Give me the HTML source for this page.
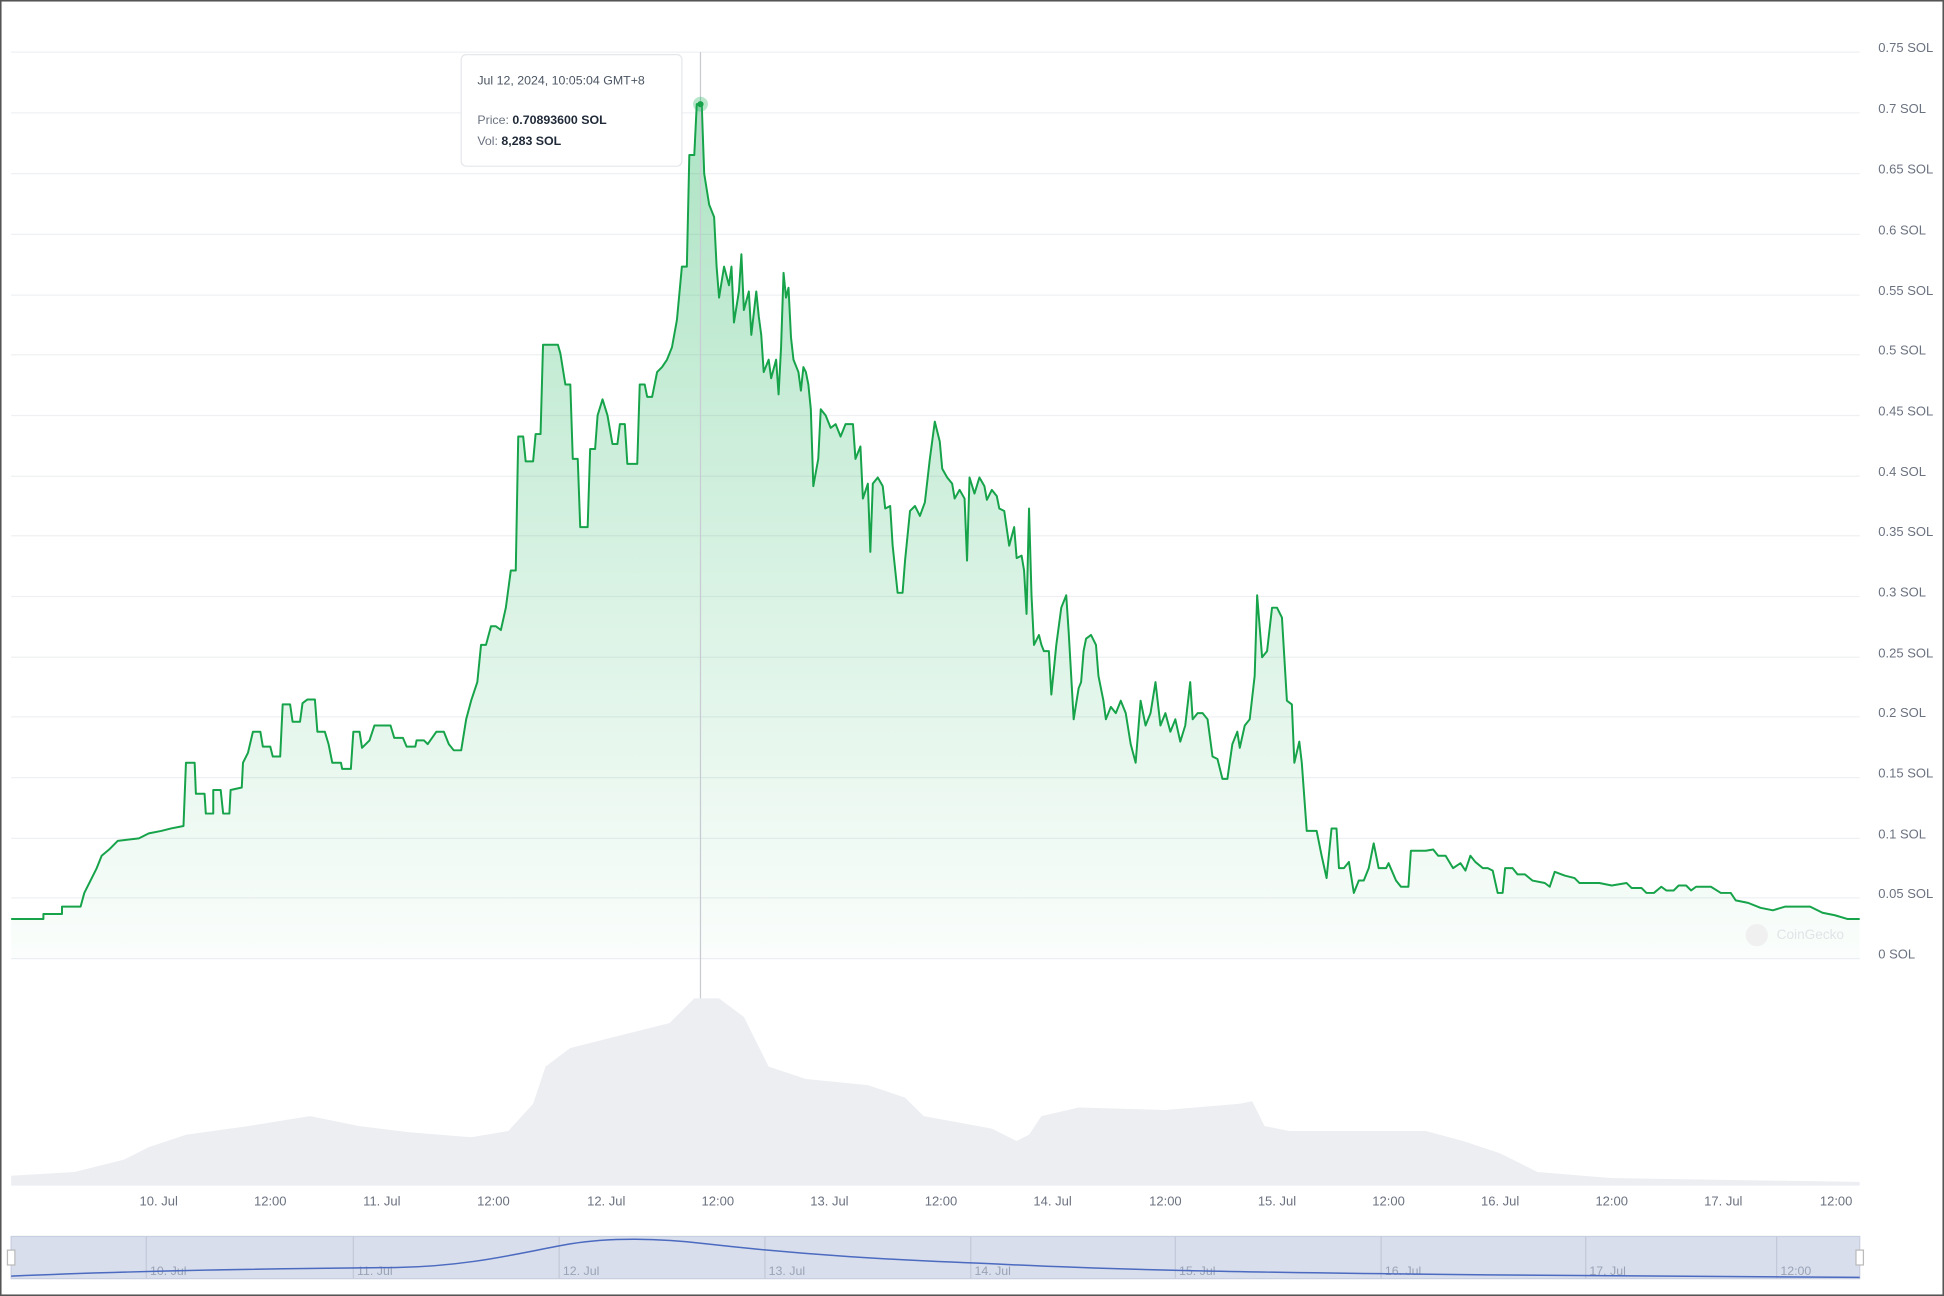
<!DOCTYPE html>
<html><head><meta charset="utf-8"><style>
html,body{margin:0;padding:0;background:#fff;}
svg{display:block;}
text{font-family:"Liberation Sans",sans-serif;}
</style></head><body>
<svg width="1944" height="1296" viewBox="0 0 1568 1045" preserveAspectRatio="none" xmlns="http://www.w3.org/2000/svg">
<defs>
<linearGradient id="g" x1="0" y1="0" x2="0" y2="1">
<stop offset="0" stop-color="#16b157" stop-opacity="0.35"/>
<stop offset="1" stop-color="#16b157" stop-opacity="0.02"/>
</linearGradient>
</defs>
<rect x="0.5" y="0.5" width="1567" height="1044" fill="#fff" stroke="#555" stroke-width="1.5"/>
<g stroke="#eef0f3" stroke-width="1">
<line x1="9" x2="1500" y1="42" y2="42"/><line x1="9" x2="1500" y1="91" y2="91"/><line x1="9" x2="1500" y1="140" y2="140"/><line x1="9" x2="1500" y1="189" y2="189"/><line x1="9" x2="1500" y1="238" y2="238"/><line x1="9" x2="1500" y1="286" y2="286"/><line x1="9" x2="1500" y1="335" y2="335"/><line x1="9" x2="1500" y1="384" y2="384"/><line x1="9" x2="1500" y1="432" y2="432"/><line x1="9" x2="1500" y1="481" y2="481"/><line x1="9" x2="1500" y1="530" y2="530"/><line x1="9" x2="1500" y1="578" y2="578"/><line x1="9" x2="1500" y1="627" y2="627"/><line x1="9" x2="1500" y1="676" y2="676"/><line x1="9" x2="1500" y1="724" y2="724"/><line x1="9" x2="1500" y1="773" y2="773"/>
</g>
<g fill="#6b7280" font-size="10.5">
<text x="1515" y="42">0.75 SOL</text><text x="1515" y="91">0.7 SOL</text><text x="1515" y="140">0.65 SOL</text><text x="1515" y="189">0.6 SOL</text><text x="1515" y="238">0.55 SOL</text><text x="1515" y="286">0.5 SOL</text><text x="1515" y="335">0.45 SOL</text><text x="1515" y="384">0.4 SOL</text><text x="1515" y="432">0.35 SOL</text><text x="1515" y="481">0.3 SOL</text><text x="1515" y="530">0.25 SOL</text><text x="1515" y="578">0.2 SOL</text><text x="1515" y="627">0.15 SOL</text><text x="1515" y="676">0.1 SOL</text><text x="1515" y="724">0.05 SOL</text><text x="1515" y="773">0 SOL</text>
</g>
<path fill="#eceef2" d="M9,956 L9,948 60,945 100,935 120,925 150,915 200,908 250,900 290,908 330,913 380,917 410,912 430,890 440,860 460,845 500,835 540,825 560,805 580,805 600,820 620,860 650,870 700,875 730,885 745,900 800,910 820,920 830,915 840,900 870,893 940,895 1000,890 1010,888 1020,908 1040,912 1150,912 1180,920 1210,930 1240,945 1300,950 1500,953 1500,956 Z"/>
<g id="pl">
<polygon fill="url(#g)" points="9,773 9,741 35,741 35,737 50,737 50,731 65,731 68,720 72,712 78,700 82,690 88,685 95,678 112,676 120,672 130,670 138,668 148,666 150,615 157,615 158,640 165,640 166,656 172,656 172,637 178,637 180,656 185,656 186,637 195,635 196,615 200,607 204,590 210,590 212,602 218,602 220,610 226,610 228,568 234,568 236,582 242,582 244,567 248,564 254,564 256,590 262,590 265,600 268,615 275,615 276,620 283,620 285,590 290,590 292,603 298,597 302,585 315,585 318,595 325,595 328,602 335,602 336,597 342,597 345,600 352,590 358,590 362,600 366,605 372,605 376,580 380,565 385,550 388,520 392,520 396,505 400,505 404,508 408,490 412,460 416,460 418,352 422,352 424,372 430,372 432,350 436,350 438,278 450,278 452,285 456,310 460,310 462,370 466,370 468,425 474,425 476,362 480,362 482,335 486,322 490,335 494,358 498,358 500,342 504,342 506,374 514,374 516,310 520,310 522,320 526,320 530,300 534,296 538,290 542,280 546,258 550,215 554,215 556,125 560,125 562,84 566,84 568,140 572,165 576,175 578,215 580,240 584,215 588,230 590,215 592,260 596,235 598,205 600,250 604,235 606,270 610,235 612,255 614,270 616,300 620,290 622,305 626,290 628,318 630,280 632,220 634,240 636,232 638,272 640,290 644,300 646,315 648,296 650,300 652,310 654,330 656,392 660,370 662,330 666,335 670,345 674,342 678,352 682,342 688,342 690,370 694,360 696,402 700,390 702,445 704,390 708,385 712,392 714,410 718,408 720,440 724,478 728,478 730,452 734,412 738,408 742,416 746,405 750,370 754,340 758,356 760,378 764,385 768,390 770,402 774,395 778,402 780,452 782,385 786,398 790,385 794,392 796,403 800,395 804,400 806,410 810,412 814,440 818,425 820,450 824,448 826,460 828,495 830,410 832,480 834,520 838,512 840,520 842,525 846,525 848,560 852,520 856,490 860,480 862,510 866,580 870,555 872,550 874,525 876,515 880,512 884,520 886,545 890,565 892,580 896,570 900,575 904,565 908,575 912,600 916,615 920,565 924,585 928,575 932,550 936,585 940,575 944,590 948,580 952,598 956,585 960,550 962,580 966,575 970,575 974,580 978,610 982,612 986,628 990,628 994,600 998,590 1000,603 1004,585 1008,580 1012,545 1014,480 1018,530 1022,525 1026,490 1030,490 1034,498 1038,565 1042,568 1044,615 1048,598 1050,615 1054,670 1062,670 1066,690 1070,708 1074,668 1078,668 1080,700 1084,700 1088,695 1092,720 1096,710 1100,710 1104,700 1108,680 1112,700 1118,700 1120,696 1126,710 1130,715 1136,715 1138,686 1150,686 1156,685 1160,690 1166,690 1172,700 1178,696 1182,702 1186,690 1190,695 1196,700 1200,700 1204,702 1208,720 1212,720 1214,700 1220,700 1224,705 1230,705 1236,710 1246,712 1250,715 1254,703 1262,706 1270,708 1274,712 1290,712 1300,714 1312,712 1316,716 1324,716 1328,720 1334,720 1340,715 1344,718 1350,718 1354,714 1360,714 1364,718 1368,715 1380,715 1388,720 1396,720 1400,726 1410,728 1420,732 1430,734 1440,731 1460,731 1470,736 1480,738 1490,741 1500,741 1500,773"/>
</g>
<polyline fill="none" stroke="#16a34a" stroke-width="1.6" stroke-linejoin="round" points="9,741 35,741 35,737 50,737 50,731 65,731 68,720 72,712 78,700 82,690 88,685 95,678 112,676 120,672 130,670 138,668 148,666 150,615 157,615 158,640 165,640 166,656 172,656 172,637 178,637 180,656 185,656 186,637 195,635 196,615 200,607 204,590 210,590 212,602 218,602 220,610 226,610 228,568 234,568 236,582 242,582 244,567 248,564 254,564 256,590 262,590 265,600 268,615 275,615 276,620 283,620 285,590 290,590 292,603 298,597 302,585 315,585 318,595 325,595 328,602 335,602 336,597 342,597 345,600 352,590 358,590 362,600 366,605 372,605 376,580 380,565 385,550 388,520 392,520 396,505 400,505 404,508 408,490 412,460 416,460 418,352 422,352 424,372 430,372 432,350 436,350 438,278 450,278 452,285 456,310 460,310 462,370 466,370 468,425 474,425 476,362 480,362 482,335 486,322 490,335 494,358 498,358 500,342 504,342 506,374 514,374 516,310 520,310 522,320 526,320 530,300 534,296 538,290 542,280 546,258 550,215 554,215 556,125 560,125 562,84 566,84 568,140 572,165 576,175 578,215 580,240 584,215 588,230 590,215 592,260 596,235 598,205 600,250 604,235 606,270 610,235 612,255 614,270 616,300 620,290 622,305 626,290 628,318 630,280 632,220 634,240 636,232 638,272 640,290 644,300 646,315 648,296 650,300 652,310 654,330 656,392 660,370 662,330 666,335 670,345 674,342 678,352 682,342 688,342 690,370 694,360 696,402 700,390 702,445 704,390 708,385 712,392 714,410 718,408 720,440 724,478 728,478 730,452 734,412 738,408 742,416 746,405 750,370 754,340 758,356 760,378 764,385 768,390 770,402 774,395 778,402 780,452 782,385 786,398 790,385 794,392 796,403 800,395 804,400 806,410 810,412 814,440 818,425 820,450 824,448 826,460 828,495 830,410 832,480 834,520 838,512 840,520 842,525 846,525 848,560 852,520 856,490 860,480 862,510 866,580 870,555 872,550 874,525 876,515 880,512 884,520 886,545 890,565 892,580 896,570 900,575 904,565 908,575 912,600 916,615 920,565 924,585 928,575 932,550 936,585 940,575 944,590 948,580 952,598 956,585 960,550 962,580 966,575 970,575 974,580 978,610 982,612 986,628 990,628 994,600 998,590 1000,603 1004,585 1008,580 1012,545 1014,480 1018,530 1022,525 1026,490 1030,490 1034,498 1038,565 1042,568 1044,615 1048,598 1050,615 1054,670 1062,670 1066,690 1070,708 1074,668 1078,668 1080,700 1084,700 1088,695 1092,720 1096,710 1100,710 1104,700 1108,680 1112,700 1118,700 1120,696 1126,710 1130,715 1136,715 1138,686 1150,686 1156,685 1160,690 1166,690 1172,700 1178,696 1182,702 1186,690 1190,695 1196,700 1200,700 1204,702 1208,720 1212,720 1214,700 1220,700 1224,705 1230,705 1236,710 1246,712 1250,715 1254,703 1262,706 1270,708 1274,712 1290,712 1300,714 1312,712 1316,716 1324,716 1328,720 1334,720 1340,715 1344,718 1350,718 1354,714 1360,714 1364,718 1368,715 1380,715 1388,720 1396,720 1400,726 1410,728 1420,732 1430,734 1440,731 1460,731 1470,736 1480,738 1490,741 1500,741"/>
<line x1="565" x2="565" y1="42" y2="805" stroke="#c8ccd2" stroke-width="1"/>
<circle cx="565" cy="84" r="6" fill="#16b157" fill-opacity="0.3"/>
<circle cx="565" cy="84" r="2.5" fill="#16a34a"/>
<circle cx="1417" cy="754" r="9" fill="#f0f0f0"/>
<text x="1433" y="757" font-size="11" fill="#e2e4e8">CoinGecko</text>
<g fill="#6b7280" font-size="10.5" text-anchor="middle">
<text x="128" y="972">10. Jul</text><text x="218" y="972">12:00</text><text x="308" y="972">11. Jul</text><text x="398" y="972">12:00</text><text x="489" y="972">12. Jul</text><text x="579" y="972">12:00</text><text x="669" y="972">13. Jul</text><text x="759" y="972">12:00</text><text x="849" y="972">14. Jul</text><text x="940" y="972">12:00</text><text x="1030" y="972">15. Jul</text><text x="1120" y="972">12:00</text><text x="1210" y="972">16. Jul</text><text x="1300" y="972">12:00</text><text x="1390" y="972">17. Jul</text><text x="1481" y="972">12:00</text>
</g>
<rect x="9" y="997" width="1491" height="34" fill="#d8deec" stroke="#c8cfe0"/>
<g stroke="#c3c9d8"><line x1="118" x2="118" y1="997" y2="1031"/><line x1="285" x2="285" y1="997" y2="1031"/><line x1="451" x2="451" y1="997" y2="1031"/><line x1="617" x2="617" y1="997" y2="1031"/><line x1="783" x2="783" y1="997" y2="1031"/><line x1="948" x2="948" y1="997" y2="1031"/><line x1="1114" x2="1114" y1="997" y2="1031"/><line x1="1279" x2="1279" y1="997" y2="1031"/><line x1="1433" x2="1433" y1="997" y2="1031"/></g>
<g fill="#9aa3b5" font-size="10"><text x="121" y="1028">10. Jul</text><text x="288" y="1028">11. Jul</text><text x="454" y="1028">12. Jul</text><text x="620" y="1028">13. Jul</text><text x="786" y="1028">14. Jul</text><text x="951" y="1028">15. Jul</text><text x="1117" y="1028">16. Jul</text><text x="1282" y="1028">17. Jul</text><text x="1436" y="1028">12:00</text></g>
<path fill="none" stroke="#4b6ac0" stroke-width="1.2" d="M9,1029 C100,1025 200,1023 320,1022 C380,1021 420,1010 460,1003 C490,998 530,998 570,1003 C650,1012 720,1016 800,1019 C900,1024 1000,1026 1200,1028 L1500,1030"/>
<rect x="6" y="1008" width="6" height="12" fill="#fff" stroke="#bbb"/>
<rect x="1497" y="1008" width="6" height="12" fill="#fff" stroke="#bbb"/>
<rect x="372" y="44" width="178" height="90" rx="4" fill="#fff" stroke="#e5e7eb"/>
<text x="385" y="68" font-size="10" fill="#4b5563">Jul 12, 2024, 10:05:04 GMT+8</text>
<text x="385" y="100" font-size="10" fill="#6b7280">Price: <tspan fill="#1f2937" font-weight="bold">0.70893600 SOL</tspan></text>
<text x="385" y="117" font-size="10" fill="#6b7280">Vol: <tspan fill="#1f2937" font-weight="bold">8,283 SOL</tspan></text>
</svg>
</body></html>
